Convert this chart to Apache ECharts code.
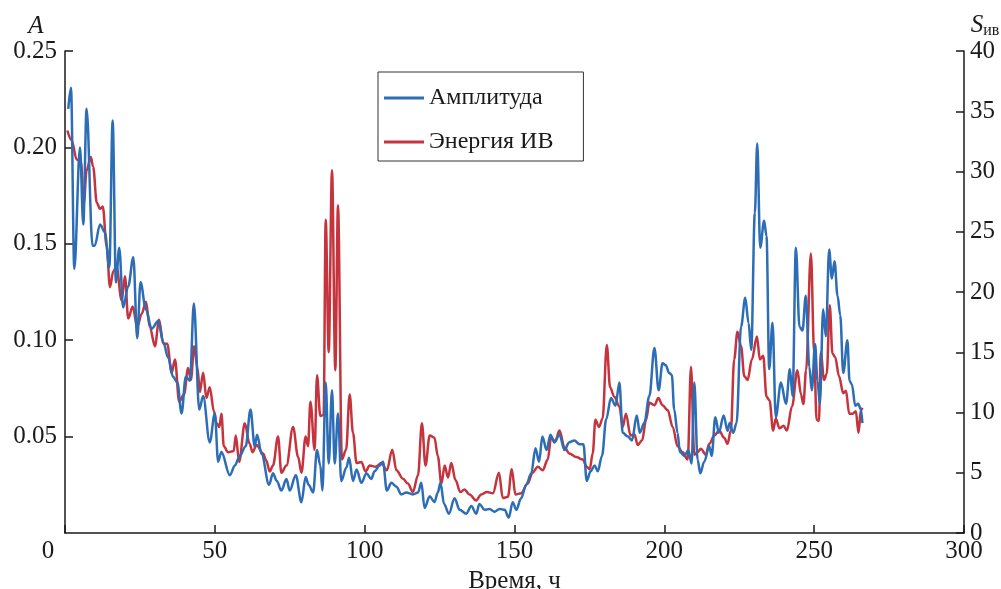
<!DOCTYPE html>
<html>
<head>
<meta charset="utf-8">
<script src="https://cdn.jsdelivr.net/npm/echarts@6/dist/echarts.min.js"></script>
<style>
  html, body { margin: 0; padding: 0; background: #fff; }
  #chart { width: 1001px; height: 589px; }
</style>
</head>
<body>
<div id="chart"></div>
<script>
// амплитуда (левая ось), время в часах
const ampTime = [1.1, 2, 3.1, 5, 6.1, 7.2, 9.2, 9.9, 11.7, 13.3, 14.8, 15.9, 17, 18.1, 19.4, 21.1, 22.8, 24.1, 25.2, 27,
  28.9, 31.1, 32.8, 34.4, 36.1, 37.5, 38.9, 40.3, 41.7, 43, 44.8, 46.1, 48.3, 50, 51.1, 52.2, 55, 56.7, 58.3, 60.3,
  61.9, 63.3, 64.1, 65.6, 68.1, 69.4, 70.7, 72.2, 73.9, 75, 77, 78.9, 80.3, 81.3, 82.8, 84.1, 85.2, 85.9, 87, 88,
  89.1, 90, 91.1, 92.2, 93.9, 94.8, 96.1, 97.3, 98.9, 100.6, 102.2, 103.3, 105, 106.1, 107.4, 108.9, 110.6, 112.2, 113.9, 116.1,
  117.8, 118.9, 120, 121.7, 123.3, 124.4, 125.3, 126.5, 128.1, 130, 131.7, 133.9, 135.6, 137.2, 138.3, 140, 141.7, 143.3, 145, 146.7,
  148.1, 149.4, 150.6, 152.2, 153.9, 155.6, 157, 158.2, 159.3, 160.7, 162, 163.3, 165, 166.7, 168.2, 170, 171.7, 173, 174.1, 175.4,
  176.7, 177.8, 179.2, 180.6, 182.2, 183.7, 185, 186.1, 187.8, 189.2, 190.8, 191.8, 193.3, 195, 196.7, 198.1, 199.4, 200.5, 201.6, 202.5,
  203.3, 204.4, 205.2, 206.7, 208, 209.1, 210, 211.1, 212, 213.3, 215, 215.8, 217, 218.2, 219.8, 221.1, 221.8, 223, 224.1, 225.6,
  227, 228.1, 229, 230.2, 231, 232, 233.3, 234.1, 235, 236.1, 237.2, 238.9, 240.6, 241.9, 242.8, 243.9, 245.1, 246.1, 247.2, 248.4,
  249.2, 250.3, 251.1, 251.9, 253, 253.9, 255, 255.9, 256.8, 257.8, 258.7, 259.7, 261.1, 261.8, 262.6, 263.7, 264.7, 265.6, 266.1];
const amplitude = [0.220, 0.231, 0.137, 0.200, 0.160, 0.220, 0.149, 0.149, 0.160, 0.156, 0.138, 0.214, 0.130, 0.148, 0.117, 0.128, 0.143, 0.101, 0.130, 0.116,
  0.106, 0.110, 0.099, 0.091, 0.081, 0.078, 0.062, 0.081, 0.079, 0.119, 0.064, 0.071, 0.047, 0.062, 0.037, 0.042, 0.030, 0.035, 0.040, 0.045,
  0.064, 0.045, 0.051, 0.041, 0.025, 0.031, 0.027, 0.022, 0.028, 0.022, 0.030, 0.016, 0.029, 0.025, 0.021, 0.043, 0.035, 0.022, 0.078, 0.036,
  0.074, 0.036, 0.062, 0.027, 0.034, 0.039, 0.027, 0.033, 0.026, 0.031, 0.028, 0.032, 0.035, 0.037, 0.022, 0.026, 0.024, 0.020, 0.021, 0.020,
  0.021, 0.026, 0.013, 0.019, 0.016, 0.021, 0.026, 0.015, 0.010, 0.018, 0.012, 0.010, 0.014, 0.010, 0.015, 0.012, 0.0125, 0.011, 0.0125, 0.012,
  0.008, 0.016, 0.012, 0.018, 0.025, 0.031, 0.044, 0.037, 0.050, 0.043, 0.051, 0.047, 0.051, 0.043, 0.047, 0.048, 0.046, 0.046, 0.027, 0.032,
  0.035, 0.032, 0.040, 0.059, 0.070, 0.066, 0.078, 0.052, 0.050, 0.048, 0.061, 0.052, 0.057, 0.071, 0.096, 0.074, 0.088, 0.087, 0.083, 0.082,
  0.064, 0.052, 0.042, 0.040, 0.043, 0.036, 0.078, 0.038, 0.031, 0.037, 0.045, 0.040, 0.060, 0.052, 0.061, 0.053, 0.057, 0.052, 0.057, 0.107,
  0.122, 0.109, 0.095, 0.166, 0.202, 0.148, 0.162, 0.154, 0.085, 0.109, 0.060, 0.078, 0.067, 0.085, 0.071, 0.148, 0.107, 0.105, 0.123, 0.086,
  0.074, 0.098, 0.079, 0.067, 0.116, 0.102, 0.147, 0.132, 0.141, 0.123, 0.113, 0.083, 0.100, 0.079, 0.077, 0.066, 0.067, 0.064, 0.057];

// энергия ИВ (правая ось)
const energyTime = [0.8, 2.2, 3.9, 5.3, 6.3, 7.2, 8.6, 9.4, 10.6, 11.7, 12.6, 13.9, 15, 16.1, 17.2, 18.9, 20, 21.1, 22.6, 24.1,
  25.6, 27, 28.3, 30, 31.4, 32.8, 34.1, 35.6, 36.7, 38.1, 39.7, 41.1, 42, 43.1, 44.2, 45, 46.1, 47.2, 48.3, 49.7,
  50.6, 51.5, 52.2, 53, 54.4, 56.3, 57, 58.1, 60, 61.6, 62.6, 63.9, 66.1, 67.2, 68.3, 69.4, 71.1, 72.2, 73.9, 76.1,
  77.8, 78.9, 80.3, 81.1, 81.9, 83.3, 84.1, 85.2, 86.3, 87, 88, 89.1, 90.2, 91.1, 92.4, 93.8, 95, 96.1, 97.3, 98.9,
  100.3, 101.7, 103.7, 105.6, 107.4, 109.2, 110.6, 112.8, 114.4, 116.1, 117.8, 119.1, 120.3, 121.7, 123.3, 124.4, 125.6, 126.7, 127.8, 128.9,
  130.3, 131.9, 133.3, 135, 137.2, 138.9, 140.8, 142.8, 144.8, 146.1, 147.8, 149.1, 150.3, 152.2, 154.4, 156, 157.8, 159.4, 161.1, 162.2,
  163.6, 165, 166.7, 168.3, 170.6, 172.8, 174.1, 175.1, 176.1, 177, 178.2, 179.4, 180.8, 181.9, 183.3, 185, 186.1, 187.2, 188.7, 190,
  191.1, 192.6, 193.9, 195, 196.7, 198, 199.4, 201.1, 202.8, 204.4, 206.1, 207.8, 208.9, 210, 211.1, 212.2, 213.8, 215, 216.7, 218.3,
  220, 221.1, 222.2, 223.3, 224.4, 225.6, 226.7, 227.8, 229.2, 230.9, 231.9, 233, 234.1, 235.1, 236.3, 237.2, 238.4, 239.8, 240.9, 242.6,
  244.4, 245.6, 246.4, 247.3, 248.9, 250, 250.8, 251.6, 252.2, 253.3, 254.2, 255.2, 256.1, 257, 258.3, 259.7, 260.6, 261.7, 262.8, 263.9,
  264.8, 265.6, 266.1];
const energy = [33.4, 32.6, 31.0, 30.8, 27.4, 30.1, 31.2, 30.4, 27.4, 26.9, 27.1, 23.8, 20.4, 21.7, 22.1, 19.3, 21.3, 17.8, 18.8, 17.1,
  18.2, 19.2, 17.1, 15.5, 17.7, 15.7, 15.7, 13.3, 14.4, 10.9, 11.5, 13.7, 12.7, 15.5, 13.7, 11.7, 13.3, 11.2, 12.1, 10.1,
  9.1, 8.8, 9.9, 7.2, 6.7, 6.8, 8.1, 5.9, 9.1, 7.4, 6.7, 7.3, 6.6, 6.0, 5.1, 5.6, 8.0, 5.0, 5.6, 8.8,
  6.3, 5.0, 8.0, 7.2, 10.9, 6.9, 13.1, 9.7, 9.8, 26.0, 15.0, 30.1, 13.5, 27.2, 6.1, 6.9, 11.5, 8.3, 5.8, 5.9,
  5.1, 5.6, 5.5, 5.8, 5.2, 6.9, 5.2, 4.5, 4.1, 3.4, 4.8, 9.1, 5.6, 8.1, 7.9, 6.4, 4.1, 5.6, 4.6, 5.8,
  4.4, 3.4, 3.6, 3.2, 2.7, 3.2, 3.4, 3.3, 5.0, 2.9, 3.0, 5.3, 3.2, 3.3, 4.1, 5.0, 5.5, 5.2, 6.1, 7.9,
  7.6, 8.5, 7.1, 6.6, 6.3, 6.1, 5.5, 5.3, 6.6, 9.4, 8.8, 9.5, 15.6, 12.1, 11.3, 10.5, 8.8, 9.9, 8.1, 8.2,
  7.3, 7.7, 9.4, 10.8, 10.6, 11.2, 10.6, 10.2, 8.8, 7.2, 6.7, 6.1, 13.8, 6.5, 6.7, 7.0, 6.5, 7.4, 8.1, 8.5,
  7.9, 7.4, 8.5, 14.4, 16.7, 15.5, 13.0, 12.7, 14.4, 16.3, 14.4, 14.7, 11.3, 11.0, 8.5, 9.5, 8.7, 8.9, 8.5, 10.5,
  13.5, 11.5, 10.7, 13.5, 23.2, 15.0, 9.4, 9.3, 15.0, 12.7, 13.2, 18.9, 14.9, 14.6, 13.0, 11.6, 11.8, 9.9, 9.9, 10.1,
  8.3, 10.2, 10.4];

const xTicks = [0, 50, 100, 150, 200, 250, 300];
const ampTicks = [0, 0.05, 0.10, 0.15, 0.20, 0.25];
const energyTicks = [0, 5, 10, 15, 20, 25, 30, 35, 40];

const FONT = 'Liberation Serif';
const INK = '#1a1a1a';
const BLUE = '#2d6db5';
const RED = '#c5333d';

const chart = echarts.init(document.getElementById('chart'));

const axisCommon = {
  axisLine: { show: true, lineStyle: { color: INK, width: 1.5 } },
  axisTick: { show: true, inside: true, length: 8, lineStyle: { color: INK, width: 1.5 } },
  splitLine: { show: false },
  axisLabel: { fontFamily: FONT, fontSize: 25, color: INK },
};

chart.setOption({
  animation: false,
  backgroundColor: '#fff',
  grid: { left: 65, right: 37, top: 51, bottom: 56, outerBoundsMode: 'none' },
  legend: {
    orient: 'vertical',
    left: 378,
    top: 72,
    padding: [14, 30, 7, 6],
    itemGap: 20,
    itemWidth: 40,
    itemHeight: 3,
    icon: 'rect',
    borderColor: '#333',
    borderWidth: 1,
    textStyle: { fontFamily: FONT, fontSize: 24, color: INK },
    data: ['Амплитуда', 'Энергия ИВ'],
  },
  xAxis: {
    type: 'value',
    min: xTicks[0],
    max: xTicks[xTicks.length - 1],
    interval: xTicks[1] - xTicks[0],
    name: 'Время, ч',
    nameLocation: 'middle',
    nameGap: 34,
    nameTextStyle: { fontFamily: FONT, fontSize: 25, color: INK },
    ...axisCommon,
    axisLabel: {
      ...axisCommon.axisLabel,
      margin: 6,
      formatter: (v) => (v === 0 ? '{z|0}' : String(v)),
      rich: { z: { fontFamily: FONT, fontSize: 25, color: INK, padding: [0, 34, 0, 0] } },
    },
  },
  yAxis: [
    {
      type: 'value',
      position: 'left',
      min: ampTicks[0],
      max: ampTicks[ampTicks.length - 1],
      interval: ampTicks[1] - ampTicks[0],
      name: 'A',
      nameLocation: 'end',
      nameGap: 12,
      nameTextStyle: { fontFamily: FONT, fontSize: 25, fontStyle: 'italic', color: INK, padding: [0, 58, 0, 0] },
      ...axisCommon,
      axisLabel: {
        ...axisCommon.axisLabel,
        margin: 8,
        showMinLabel: false,
        formatter: (v) => v.toFixed(2),
      },
    },
    {
      type: 'value',
      position: 'right',
      min: energyTicks[0],
      max: energyTicks[energyTicks.length - 1],
      interval: energyTicks[1] - energyTicks[0],
      name: '{s|S}{sub|ив}',
      nameLocation: 'end',
      nameGap: 12,
      nameTextStyle: {
        padding: [0, 0, 0, 42],
        rich: {
          s: { fontFamily: FONT, fontSize: 25, fontStyle: 'italic', color: INK },
          sub: { fontFamily: FONT, fontSize: 16, color: INK, verticalAlign: 'bottom', padding: [10, 0, 0, 0] },
        },
      },
      ...axisCommon,
      axisLabel: { ...axisCommon.axisLabel, margin: 6 },
    },
  ],
  series: [
    {
      name: 'Амплитуда',
      type: 'line',
      yAxisIndex: 0,
      symbol: 'none',
      smooth: 0.35,
      smoothMonotone: 'x',
      z: 3,
      lineStyle: { color: BLUE, width: 2.5 },
      itemStyle: { color: BLUE },
      data: ampTime.map((t, i) => [t, amplitude[i]]),
    },
    {
      name: 'Энергия ИВ',
      type: 'line',
      yAxisIndex: 1,
      symbol: 'none',
      smooth: 0.35,
      smoothMonotone: 'x',
      z: 2,
      lineStyle: { color: RED, width: 2.5 },
      itemStyle: { color: RED },
      data: energyTime.map((t, i) => [t, energy[i]]),
    },
  ],
});
</script>
</body>
</html>
